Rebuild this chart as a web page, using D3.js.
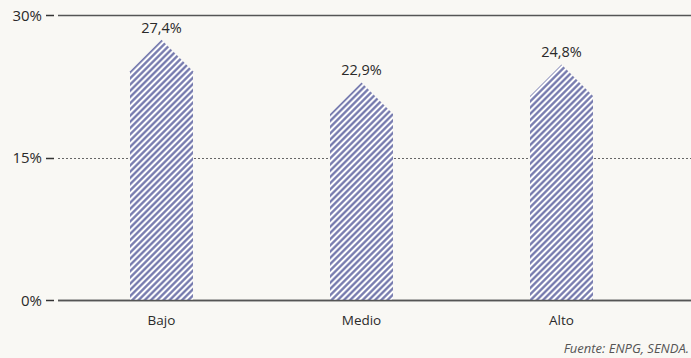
<!DOCTYPE html>
<html>
<head>
<meta charset="utf-8">
<script src="https://cdn.jsdelivr.net/npm/d3@7"></script>
<style>
  html, body { margin: 0; padding: 0; background: #f9f8f4; }
  svg { display: block; font-family: "Open Sans", "Noto Sans", sans-serif; }
</style>
</head>
<body>
<svg id="chart" width="691" height="358"></svg>
<script>
// Data
const categories = ["Bajo", "Medio", "Alto"];
const values = [27.4, 22.9, 24.8];
const valueLabels = ["27,4%", "22,9%", "24,8%"];
const yTicks = [0, 15, 30];
const yTickLabels = ["0%", "15%", "30%"];
const source = "Fuente: ENPG, SENDA.";

const W = 691, H = 358;
const gridLeft = 58;
const svg = d3.select("#chart");

const y = d3.scaleLinear().domain([0, 30]).range([300, 15]);
const x = d3.scaleBand()
  .domain(categories)
  .range([61.5, 661.5])
  .paddingInner(0.685)
  .paddingOuter(0.3425);

// hatch pattern
const P = 4.4;
const defs = svg.append("defs");
const pat = defs.append("pattern")
  .attr("id", "hatch")
  .attr("patternUnits", "userSpaceOnUse")
  .attr("width", P)
  .attr("height", P)
  .attr("patternTransform", "rotate(45)");
pat.append("rect").attr("width", P).attr("height", P).attr("fill", "#ffffff");
pat.append("line")
  .attr("x1", P / 2).attr("y1", 0).attr("x2", P / 2).attr("y2", P)
  .attr("stroke", "#6d72a9").attr("stroke-width", 2.2);

// gridlines
const grid = svg.append("g");
grid.selectAll("line.grid")
  .data(yTicks)
  .join("line")
  .attr("class", "grid")
  .attr("x1", gridLeft).attr("x2", W)
  .attr("y1", d => Math.round(y(d)) + 0.5)
  .attr("y2", d => Math.round(y(d)) + 0.5)
  .attr("stroke", d => d === 15 ? "#666" : "#555")
  .attr("stroke-width", d => d === 15 ? 1 : 1.3)
  .attr("stroke-dasharray", d => d === 15 ? "2,2" : null);

// tick dashes + labels
grid.selectAll("line.tick")
  .data(yTicks)
  .join("line")
  .attr("class", "tick")
  .attr("x1", 46).attr("x2", 54)
  .attr("y1", d => Math.round(y(d)) + 0.5)
  .attr("y2", d => Math.round(y(d)) + 0.5)
  .attr("stroke", "#333")
  .attr("stroke-width", 1.5);
grid.selectAll("text.tick")
  .data(yTicks)
  .join("text")
  .attr("class", "tick")
  .attr("x", 42)
  .attr("y", d => y(d) + 5.5)
  .attr("text-anchor", "end")
  .attr("font-size", 15)
  .attr("fill", "#2a2a2a")
  .text((d, i) => yTickLabels[i]);

// bars: pentagon shape with 45° roof
const bars = svg.append("g");
bars.selectAll("path")
  .data(values)
  .join("path")
  .attr("d", (v, i) => {
    const x0 = x(categories[i]);
    const w = x.bandwidth();
    const cx = x0 + w / 2;
    const top = y(v);
    const shoulder = top + w / 2;
    const base = y(0);
    return `M${x0},${base}L${x0},${shoulder}L${cx},${top}L${x0 + w},${shoulder}L${x0 + w},${base}Z`;
  })
  .attr("fill", "url(#hatch)");

// baseline on top of the bars
svg.append("line")
  .attr("x1", gridLeft).attr("x2", W)
  .attr("y1", Math.round(y(0)) + 0.5).attr("y2", Math.round(y(0)) + 0.5)
  .attr("stroke", "#555").attr("stroke-width", 1.5);

// value labels
svg.append("g").selectAll("text")
  .data(values)
  .join("text")
  .attr("x", (v, i) => x(categories[i]) + x.bandwidth() / 2)
  .attr("y", v => y(v) - 7)
  .attr("text-anchor", "middle")
  .attr("font-size", 14.5)
  .attr("fill", "#2a2a2a")
  .text((v, i) => valueLabels[i]);

// category labels
svg.append("g").selectAll("text")
  .data(categories)
  .join("text")
  .attr("x", d => x(d) + x.bandwidth() / 2)
  .attr("y", 325)
  .attr("text-anchor", "middle")
  .attr("font-size", 13.5)
  .attr("fill", "#2a2a2a")
  .text(d => d);

// source note
svg.append("text")
  .attr("x", 689)
  .attr("y", 353)
  .attr("text-anchor", "end")
  .attr("font-size", 13)
  .attr("font-style", "italic")
  .attr("fill", "#555")
  .text(source);
</script>
</body>
</html>
